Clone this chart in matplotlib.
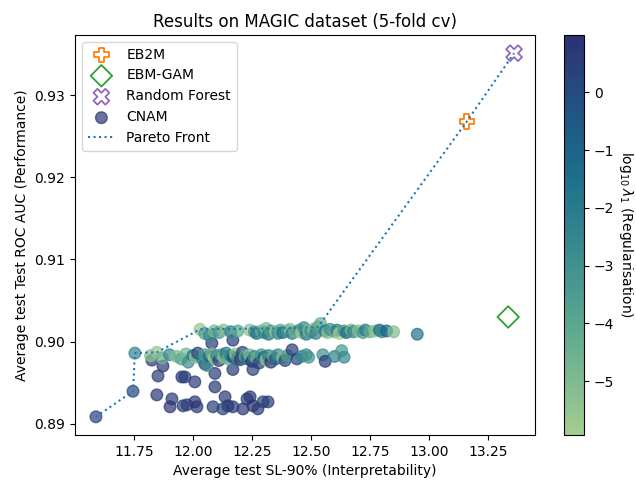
import numpy as np
import matplotlib
matplotlib.use("Agg")
import matplotlib.pyplot as plt
import seaborn as sns

# baselines (SL-90%, ROC AUC)
eb2m_sl, eb2m_auc = 13.16, 0.9268
ebm_sl, ebm_auc = 13.335, 0.9030
rf_sl, rf_auc = 13.36, 0.9351

# CNAM runs, split by the three visible bands
# strongly regularised runs (dark, low)
low_sl = [12.08, 11.589, 11.746, 11.826, 11.873, 11.852, 11.953, 11.966, 12.008, 11.847,
          11.911, 11.903, 11.958, 11.975, 12.008, 12.017, 12.085, 12.093, 12.136,
          12.148, 12.127, 12.169, 12.212, 12.229, 12.242, 12.254, 12.275, 12.297,
          12.318, 12.169, 12.254, 12.093, 12.051, 12.169]
low_auc = [0.8998, 0.89085, 0.89396, 0.89775, 0.89703, 0.89582, 0.89570, 0.89570, 0.89510,
           0.89352, 0.89303, 0.89207, 0.89219, 0.89231, 0.89267, 0.89207, 0.89207,
           0.89449, 0.89328, 0.89219, 0.89182, 0.89207, 0.89182, 0.89303, 0.89328,
           0.89219, 0.89182, 0.89267, 0.89267, 0.89661, 0.89661, 0.89613, 0.89727,
           0.90018]
low_lam = [0.8, 0.3, 0.2, 0.6, 0.7, 0.5, 0.8, 0.4, 0.6, 0.7, 0.5, 0.9, 0.6, 0.4, 0.7,
           0.8, 0.5, 0.6, 0.7, 0.9, 0.4, 0.6, 0.8, 0.5, 0.7, 0.9, 0.6, 0.4, 0.5,
           0.6, 0.4, 0.5, 0.7, 0.5]

# middle band
mid_sl = [11.754, 11.82, 11.847, 11.87, 11.90, 11.93, 11.95, 11.97, 11.98, 12.00,
          12.01, 12.02, 12.04, 12.05, 12.06, 12.07, 12.08, 12.09, 12.10, 12.11,
          12.12, 12.13, 12.14, 12.15, 12.16, 12.17, 12.18, 12.19, 12.20, 12.21,
          12.22, 12.23, 12.24, 12.25, 12.26, 12.27, 12.28, 12.29, 12.30, 12.31,
          12.32, 12.33, 12.34, 12.35, 12.36, 12.38, 12.39, 12.40, 12.42, 12.44,
          12.46, 12.48, 12.49, 12.55, 12.56, 12.60, 12.63, 12.64]
mid_auc = [0.8986, 0.8983, 0.8987, 0.8980, 0.8984, 0.8982, 0.8979, 0.8985, 0.8975, 0.8983,
           0.8981, 0.8986, 0.8979, 0.8984, 0.8971, 0.8982, 0.8985, 0.8980, 0.8983, 0.8977,
           0.8984, 0.8981, 0.8986, 0.8979, 0.8983, 0.8981, 0.8985, 0.8980, 0.8978, 0.8987,
           0.8982, 0.8979, 0.8984, 0.8976, 0.8982, 0.8980, 0.8974, 0.8984, 0.8981, 0.8978,
           0.8983, 0.8975, 0.8982, 0.8979, 0.8984, 0.8981, 0.8977, 0.8983, 0.8990, 0.8979,
           0.8982, 0.8984, 0.8981, 0.8984, 0.8976, 0.8982, 0.8989, 0.8981]
mid_lam = [-2.4, -5.3, -5.6, -4.6, -2.6, -5.0, -3.9, -4.8, -2.8, -1.7,
           -5.4, 0.3, -2.0, -3.5, -2.9, -1.2, -4.7, -5.8, -2.5, 0.5,
           -3.7, -5.2, -1.9, -4.3, -2.2, -0.2, -5.5, -3.0, 0.6, 0.2,
           -4.0, -1.5, -5.0, 0.7, -2.7, -4.5, 0.4, -3.3, -1.0, -5.6,
           -2.3, 0.8, -4.1, -0.5, -2.9, -5.1, 0.1, -3.6, 0.5, 0.3,
           -2.4, -2.8, -3.2, -3.0, 0.6, -2.2, -3.4, -2.6]

# upper band
top_sl = [12.03, 12.05, 12.07, 12.09, 12.11, 12.13, 12.16, 12.19, 12.24, 12.26,
          12.27, 12.29, 12.30, 12.31, 12.32, 12.33, 12.35, 12.36, 12.37, 12.38,
          12.40, 12.41, 12.42, 12.43, 12.45, 12.46, 12.47, 12.48, 12.49, 12.50,
          12.51, 12.52, 12.53, 12.54, 12.56, 12.57, 12.58, 12.60, 12.61, 12.62,
          12.64, 12.65, 12.67, 12.68, 12.70, 12.72, 12.73, 12.75, 12.77, 12.79,
          12.80, 12.82, 12.85, 12.95]
top_auc = [0.9015, 0.9010, 0.9007, 0.9013, 0.9011, 0.9014, 0.9012, 0.9013, 0.9014, 0.9012,
           0.9010, 0.9013, 0.9011, 0.9016, 0.9009, 0.9013, 0.9012, 0.9010, 0.9014, 0.9011,
           0.9013, 0.9015, 0.9010, 0.9012, 0.9014, 0.9011, 0.9017, 0.9009, 0.9013, 0.9012,
           0.9015, 0.9010, 0.9018, 0.9022, 0.9013, 0.9011, 0.9015, 0.9012, 0.9014, 0.9010,
           0.9013, 0.9011, 0.9014, 0.9012, 0.9013, 0.9011, 0.9014, 0.9012, 0.9013, 0.9014,
           0.9012, 0.9013, 0.9012, 0.9009]
top_lam = [-5.6, -3.5, -2.6, -4.8, -3.0, -5.2, -2.2, -4.0, -5.4, -3.3,
           -1.6, -4.6, -2.4, -5.0, -1.9, -3.6, -5.5, -2.8, -4.2, -1.5,
           -3.1, -5.3, -2.0, -4.4, -3.4, -5.7, -2.6, -1.8, -4.9, -3.0,
           -5.1, -2.3, -3.8, -4.5, -1.7, -5.4, -2.9, -4.1, -2.1, -5.8,
           -3.3, -1.4, -4.7, -2.5, -5.2, -3.6, -2.0, -4.3, -5.5, -1.2,
           -2.7, -1.0, -5.0, -1.6]

cnam_sl = np.array(low_sl + mid_sl + top_sl)
cnam_auc = np.array(low_auc + mid_auc + top_auc)
cnam_lam = np.array(low_lam + mid_lam + top_lam)

# pareto front over everything (lower SL is better, higher AUC is better)
all_sl = np.concatenate([cnam_sl, [eb2m_sl, ebm_sl, rf_sl]])
all_auc = np.concatenate([cnam_auc, [eb2m_auc, ebm_auc, rf_auc]])
order = np.argsort(all_sl)
front_sl, front_auc = [], []
best = -np.inf
for i in order:
    if all_auc[i] > best:
        best = all_auc[i]
        front_sl.append(all_sl[i])
        front_auc.append(all_auc[i])

cmap = sns.color_palette("crest", as_cmap=True)

fig = plt.figure(figsize=(6.36, 4.83), dpi=100)
ax = fig.add_axes([75/636, 1-435/483, 460/636, 400/483])
cax = fig.add_axes([564/636, 1-435/483, 20/636, 400/483])

ax.scatter(eb2m_sl, eb2m_auc, marker='P', s=110, facecolors='none',
           edgecolors='C1', linewidths=1.3, label='EB2M', zorder=3)
ax.scatter(ebm_sl, ebm_auc, marker='D', s=120, facecolors='none',
           edgecolors='C2', linewidths=1.3, label='EBM-GAM', zorder=3)
ax.scatter(rf_sl, rf_auc, marker='X', s=130, facecolors='none',
           edgecolors='C4', linewidths=1.3, label='Random Forest', zorder=3)
sc = ax.scatter(cnam_sl, cnam_auc, c=cnam_lam, cmap=cmap, vmin=-5.93, vmax=0.99,
                s=70, alpha=0.7, label='CNAM')
ax.plot(front_sl, front_auc, ':', color='C0', lw=1.5, label='Pareto Front', zorder=4)

ax.set_title('Results on MAGIC dataset (5-fold cv)')
ax.set_xlabel('Average test SL-90% (Interpretability)')
ax.set_ylabel('Average test Test ROC AUC (Performance)')
ax.legend(loc='upper left')

cbar = fig.colorbar(sc, cax=cax)
cbar.solids.set_alpha(1)
cbar.set_label(r'$\log_{10}\lambda_1$ (Regularisation)', rotation=270, labelpad=15)

fig.savefig('out.png', dpi=100)
